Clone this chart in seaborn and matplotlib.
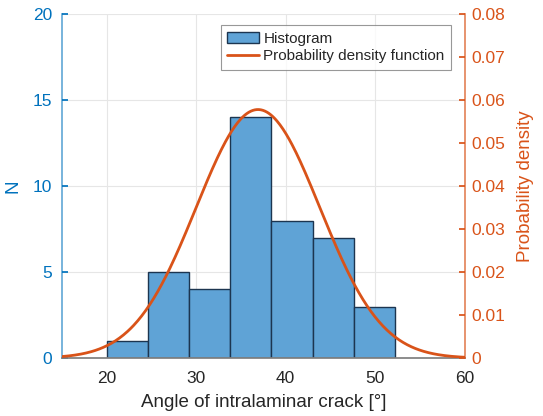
import numpy as np
import pandas as pd
import matplotlib
matplotlib.use("Agg")
import matplotlib.pyplot as plt
import seaborn as sns
from matplotlib.patches import Patch
from matplotlib.lines import Line2D

# Data
bin_edges = [20.0, 24.6, 29.2, 33.8, 38.4, 43.0, 47.6, 52.2]
counts = [1, 5, 4, 14, 8, 7, 3]
pdf_mean = 36.9
pdf_std = 6.9
x_ticks = [20, 30, 40, 50, 60]
left_ticks = [0, 5, 10, 15, 20]
right_ticks = [0, 0.01, 0.02, 0.03, 0.04, 0.05, 0.06, 0.07, 0.08]

blue = "#0072BD"
orange = "#D95319"
bar_face = "#5fa3d6"
bar_edge = "#1c3550"

sns.set_theme(style="white")
plt.rcParams['font.family'] = ['Liberation Sans', 'DejaVu Sans']

fig = plt.figure(figsize=(5.43, 4.16), dpi=100)
ax = fig.add_axes([0.114, 0.139, 0.742, 0.827])

centers = [(a + b) / 2 for a, b in zip(bin_edges[:-1], bin_edges[1:])]
df = pd.DataFrame({"x": centers, "w": counts})
sns.histplot(data=df, x="x", weights="w", bins=bin_edges, ax=ax,
             color=bar_face, alpha=1.0, edgecolor=bar_edge, linewidth=1.0,
             zorder=2)

ax.set_xlim(15, 60)
ax.set_ylim(0, 20)
ax.set_xticks(x_ticks)
ax.set_yticks(left_ticks)
ax.grid(True, color="#e6e6e6", linewidth=0.8, zorder=0)
ax.set_axisbelow(True)
ax.set_xlabel("Angle of intralaminar crack [°]", fontsize=13.5, color="#262626",
              labelpad=6)
ax.set_ylabel("N", fontsize=13.5, color=blue, labelpad=8)
ax.tick_params(axis="y", colors=blue, labelsize=12.5, direction="in", length=4, pad=7)
ax.tick_params(axis="x", colors="#262626", labelsize=12.5, direction="in", length=4, pad=9)
for s in ["top", "right"]:
    ax.spines[s].set_visible(False)
ax.spines["left"].set_color(blue)
ax.spines["left"].set_alpha(0.6)
ax.spines["bottom"].set_color("#7f7f7f")

ax2 = ax.twinx()
xs = np.linspace(15, 60, 400)
ys = np.exp(-0.5 * ((xs - pdf_mean) / pdf_std) ** 2) / (pdf_std * np.sqrt(2 * np.pi))
sns.lineplot(x=xs, y=ys, ax=ax2, color=orange, linewidth=2.0)
ax2.set_ylim(0, 0.08)
ax2.set_yticks(right_ticks)
ax2.set_yticklabels(["0"] + [f"{t:.2f}" for t in right_ticks[1:]])
ax2.set_ylabel("Probability density", fontsize=13.5, color=orange, labelpad=8)
ax2.tick_params(axis="y", colors=orange, labelsize=12.5, direction="in", length=4, pad=5)
for s in ["top", "left", "bottom"]:
    ax2.spines[s].set_visible(False)
ax2.spines["right"].set_color(orange)
ax2.spines["right"].set_alpha(0.7)

handles = [Patch(facecolor=bar_face, edgecolor=bar_edge, linewidth=1.0),
           Line2D([0], [0], color=orange, linewidth=2.0)]
leg = ax2.legend(handles, ["Histogram", "Probability density function"],
                 loc="upper right", bbox_to_anchor=(0.965, 0.967), fontsize=11,
                 frameon=True, fancybox=False, edgecolor="#7f7f7f",
                 handlelength=2.1, handletextpad=0.3, borderpad=0.4,
                 labelspacing=0.25, borderaxespad=0.0)
leg.get_frame().set_linewidth(0.8)

fig.savefig("out.png", dpi=100)
